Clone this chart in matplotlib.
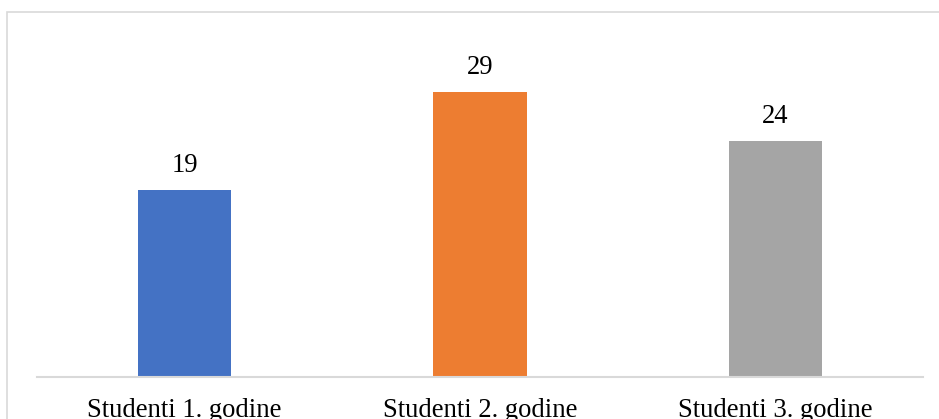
import matplotlib.pyplot as plt
from matplotlib.patches import Rectangle

categories = ["Studenti 1. godine", "Studenti 2. godine", "Studenti 3. godine"]
values = [19, 29, 24]
colors = ["#4472C4", "#ED7D31", "#A5A5A5"]

plt.rcParams['font.family'] = ['Liberation Serif', 'DejaVu Serif']

W, H = 939, 419
fig = plt.figure(figsize=(W / 100, H / 100), dpi=100)

# light chart-area frame (only top and left edges are visible in the crop)
fig.patches.append(Rectangle((7 / W, -0.2), 1.2, 1.2 - 12 / H, transform=fig.transFigure,
                             fill=False, edgecolor="#d9d9d9", linewidth=1.2))

base = 377
top = base - 35 * 9.84
ax = fig.add_axes([37 / W, 1 - base / H, (923 - 37) / W, (base - top) / H])

x = range(len(categories))
bars = ax.bar(x, values, width=0.315, color=colors, zorder=2)
for b, v in zip(bars, values):
    ax.text(b.get_x() + b.get_width() / 2, v + 1.2, str(v), ha='center', va='bottom',
            fontsize=19.2, color="#000000")

ax.set_xlim(-0.5, 2.5)
ax.set_ylim(0, 35)
ax.set_xticks(list(x))
ax.set_xticklabels(categories, fontsize=19.2)
ax.tick_params(axis='x', length=0, pad=15)
ax.set_yticks([])
for s in ['top', 'right', 'left']:
    ax.spines[s].set_visible(False)
ax.spines['bottom'].set_color("#d9d9d9")
ax.spines['bottom'].set_linewidth(1.5)
ax.patch.set_alpha(0)

fig.savefig("out.png", dpi=100)
